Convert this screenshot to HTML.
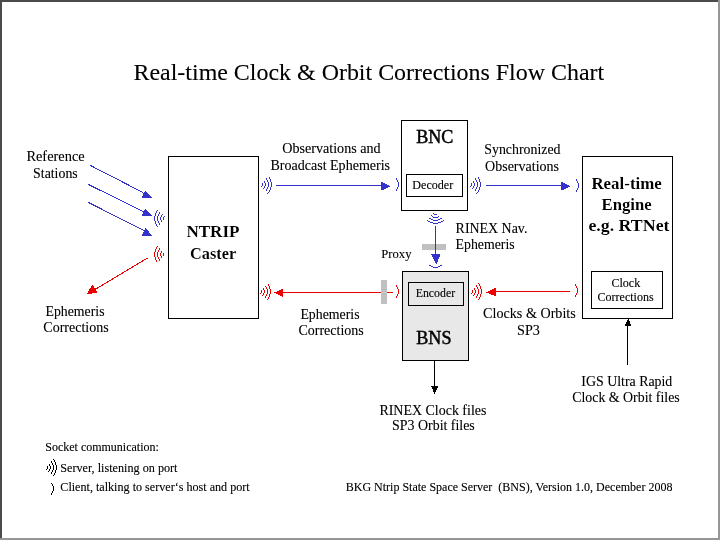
<!DOCTYPE html>
<html><head><meta charset="utf-8"><style>
html,body{margin:0;padding:0;background:#fff;}
svg{display:block;}
line,polygon,rect{shape-rendering:crispEdges;}
text{font-family:"Liberation Serif",serif;fill:#000;white-space:pre;}
</style></head><body>
<svg width="720" height="540" viewBox="0 0 720 540">
<defs><filter id="bl" x="0" y="0" width="720" height="540" filterUnits="userSpaceOnUse"><feComponentTransfer><feFuncA type="gamma" amplitude="1" exponent="1.5" offset="0"/></feComponentTransfer></filter><filter id="bw" x="0" y="0" width="720" height="540" filterUnits="userSpaceOnUse"><feComponentTransfer><feFuncA type="gamma" amplitude="1" exponent="0.8" offset="0"/></feComponentTransfer></filter></defs>
<rect x="0" y="0" width="720" height="540" fill="#fff"/>
<rect x="0" y="0" width="718" height="2" fill="#4b4b4b"/>
<rect x="0" y="0" width="2" height="538" fill="#4b4b4b"/>
<rect x="718" y="0" width="2" height="540" fill="#969696"/>
<rect x="0" y="538" width="720" height="2" fill="#969696"/>
<rect x="168.5" y="156.5" width="90" height="162" fill="none" stroke="#000" stroke-width="1"/>
<rect x="401.5" y="120.5" width="66" height="90" fill="none" stroke="#000" stroke-width="1"/>
<rect x="406.5" y="174.5" width="56" height="22" fill="none" stroke="#000" stroke-width="1"/>
<rect x="402.5" y="271.5" width="66" height="89" fill="#e8e8e8" stroke="#000" stroke-width="1"/>
<rect x="408.5" y="282.5" width="55" height="23" fill="#e8e8e8" stroke="#000" stroke-width="1"/>
<rect x="582.5" y="156.5" width="90" height="162" fill="none" stroke="#000" stroke-width="1"/>
<rect x="591.5" y="271.5" width="71" height="37" fill="none" stroke="#000" stroke-width="1"/>
<rect x="422" y="244" width="24" height="6" fill="#c0c0c0"/>
<line x1="90.5" y1="165.5" x2="143" y2="192.5" stroke="#3333cc" stroke-width="1"/>
<g fill="#3333cc"><rect x="145" y="191" width="1" height="1"/><rect x="144" y="192" width="3" height="1"/><rect x="143" y="193" width="5" height="1"/><rect x="143" y="194" width="6" height="1"/><rect x="143" y="195" width="7" height="1"/><rect x="142" y="196" width="9" height="1"/><rect x="142" y="197" width="10" height="1"/></g>
<line x1="88.5" y1="184.5" x2="143" y2="211.5" stroke="#3333cc" stroke-width="1"/>
<g fill="#3333cc"><rect x="145" y="209" width="1" height="1"/><rect x="144" y="210" width="3" height="1"/><rect x="143" y="211" width="5" height="1"/><rect x="143" y="212" width="6" height="1"/><rect x="143" y="213" width="7" height="1"/><rect x="142" y="214" width="9" height="1"/><rect x="142" y="215" width="10" height="1"/></g>
<line x1="88.5" y1="202.5" x2="144" y2="230.5" stroke="#3333cc" stroke-width="1"/>
<g fill="#3333cc"><rect x="145" y="228" width="1" height="1"/><rect x="145" y="229" width="2" height="1"/><rect x="144" y="230" width="4" height="1"/><rect x="144" y="231" width="5" height="1"/><rect x="143" y="232" width="6" height="1"/><rect x="143" y="233" width="7" height="1"/><rect x="142" y="234" width="9" height="1"/><rect x="142" y="235" width="10" height="1"/></g>
<line x1="148.5" y1="257.5" x2="95" y2="289.5" stroke="#ea0000" stroke-width="1"/>
<g fill="#ea0000"><rect x="92" y="285" width="1" height="1"/><rect x="91" y="286" width="3" height="1"/><rect x="91" y="287" width="3" height="1"/><rect x="90" y="288" width="7" height="1"/><rect x="89" y="289" width="7" height="1"/><rect x="89" y="290" width="7" height="1"/><rect x="88" y="291" width="9" height="1"/><rect x="88" y="292" width="9" height="1"/><rect x="87" y="293" width="5" height="1"/></g>
<rect x="276" y="185" width="106" height="1" fill="#3333cc"/>
<g fill="#3333cc"><rect x="381" y="182" width="2" height="1"/><rect x="381" y="183" width="4" height="1"/><rect x="381" y="184" width="6" height="1"/><rect x="381" y="185" width="8" height="1"/><rect x="381" y="186" width="9" height="1"/><rect x="381" y="187" width="7" height="1"/><rect x="381" y="188" width="5" height="1"/><rect x="381" y="189" width="3" height="1"/></g>
<rect x="486" y="185" width="76" height="1" fill="#3333cc"/>
<g fill="#3333cc"><rect x="561" y="182" width="2" height="1"/><rect x="561" y="183" width="4" height="1"/><rect x="561" y="184" width="6" height="1"/><rect x="561" y="185" width="8" height="1"/><rect x="561" y="186" width="9" height="1"/><rect x="561" y="187" width="7" height="1"/><rect x="561" y="188" width="5" height="1"/><rect x="561" y="189" width="3" height="1"/></g>
<rect x="495" y="291" width="75" height="1" fill="#ea0000"/>
<g fill="#ea0000"><rect x="494" y="288" width="2" height="1"/><rect x="492" y="289" width="4" height="1"/><rect x="490" y="290" width="6" height="1"/><rect x="488" y="291" width="8" height="1"/><rect x="486" y="292" width="10" height="1"/><rect x="489" y="293" width="7" height="1"/><rect x="491" y="294" width="5" height="1"/><rect x="494" y="295" width="2" height="1"/></g>
<rect x="282" y="292" width="111" height="1" fill="#ea0000"/>
<g fill="#ea0000"><rect x="281" y="289" width="2" height="1"/><rect x="279" y="290" width="4" height="1"/><rect x="277" y="291" width="6" height="1"/><rect x="274" y="292" width="9" height="1"/><rect x="276" y="293" width="7" height="1"/><rect x="278" y="294" width="5" height="1"/><rect x="280" y="295" width="3" height="1"/><rect x="282" y="296" width="1" height="1"/></g>
<rect x="435" y="226" width="1" height="29" fill="#3333cc"/>
<g fill="#3333cc"><rect x="431" y="254" width="9" height="1"/><rect x="432" y="255" width="8" height="1"/><rect x="432" y="256" width="8" height="1"/><rect x="433" y="257" width="6" height="1"/><rect x="433" y="258" width="6" height="1"/><rect x="434" y="259" width="4" height="1"/><rect x="434" y="260" width="4" height="1"/><rect x="435" y="261" width="3" height="1"/><rect x="435" y="262" width="2" height="1"/><rect x="436" y="263" width="1" height="1"/></g>
<rect x="434" y="361" width="1" height="26" fill="#000"/>
<g fill="#000"><rect x="431" y="386" width="7" height="1"/><rect x="432" y="387" width="6" height="1"/><rect x="432" y="388" width="5" height="1"/><rect x="433" y="389" width="4" height="1"/><rect x="433" y="390" width="3" height="1"/><rect x="433" y="391" width="3" height="1"/><rect x="434" y="392" width="1" height="1"/><rect x="434" y="393" width="1" height="1"/></g>
<rect x="627" y="325" width="1" height="40" fill="#000"/>
<g fill="#000"><rect x="628" y="319" width="1" height="1"/><rect x="627" y="320" width="2" height="1"/><rect x="627" y="321" width="3" height="1"/><rect x="626" y="322" width="4" height="1"/><rect x="626" y="323" width="4" height="1"/><rect x="625" y="324" width="6" height="1"/><rect x="625" y="325" width="6" height="1"/></g>
<rect x="381" y="280" width="6" height="24" fill="#c0c0c0"/>
<rect x="381" y="292" width="6" height="1" fill="#c4d0d0"/>
<g fill="#3333cc"><rect x="269" y="177" width="1" height="1"/><rect x="266" y="178" width="1" height="1"/><rect x="269" y="178" width="1" height="1"/><rect x="266" y="179" width="1" height="1"/><rect x="270" y="179" width="1" height="1"/><rect x="267" y="180" width="1" height="1"/><rect x="270" y="180" width="1" height="1"/><rect x="264" y="181" width="1" height="1"/><rect x="267" y="181" width="1" height="1"/><rect x="270" y="181" width="1" height="1"/><rect x="264" y="182" width="1" height="1"/><rect x="268" y="182" width="1" height="1"/><rect x="271" y="182" width="1" height="1"/><rect x="262" y="183" width="1" height="1"/><rect x="265" y="183" width="1" height="1"/><rect x="268" y="183" width="1" height="1"/><rect x="271" y="183" width="1" height="1"/><rect x="262" y="184" width="1" height="1"/><rect x="265" y="184" width="1" height="1"/><rect x="268" y="184" width="1" height="1"/><rect x="271" y="184" width="1" height="1"/><rect x="262" y="185" width="1" height="1"/><rect x="265" y="185" width="1" height="1"/><rect x="268" y="185" width="1" height="1"/><rect x="271" y="185" width="1" height="1"/><rect x="261" y="186" width="1" height="1"/><rect x="264" y="186" width="1" height="1"/><rect x="268" y="186" width="1" height="1"/><rect x="271" y="186" width="1" height="1"/><rect x="264" y="187" width="1" height="1"/><rect x="267" y="187" width="1" height="1"/><rect x="270" y="187" width="1" height="1"/><rect x="263" y="188" width="1" height="1"/><rect x="267" y="188" width="1" height="1"/><rect x="270" y="188" width="1" height="1"/><rect x="266" y="189" width="1" height="1"/><rect x="270" y="189" width="1" height="1"/><rect x="266" y="190" width="1" height="1"/><rect x="269" y="190" width="1" height="1"/><rect x="269" y="191" width="1" height="1"/><rect x="268" y="192" width="1" height="1"/><rect x="267" y="193" width="1" height="1"/></g>
<g fill="#ea0000"><rect x="268" y="284" width="1" height="1"/><rect x="268" y="285" width="1" height="1"/><rect x="265" y="286" width="1" height="1"/><rect x="269" y="286" width="1" height="1"/><rect x="266" y="287" width="1" height="1"/><rect x="269" y="287" width="1" height="1"/><rect x="263" y="288" width="1" height="1"/><rect x="266" y="288" width="1" height="1"/><rect x="269" y="288" width="1" height="1"/><rect x="263" y="289" width="1" height="1"/><rect x="267" y="289" width="1" height="1"/><rect x="270" y="289" width="1" height="1"/><rect x="261" y="290" width="1" height="1"/><rect x="264" y="290" width="1" height="1"/><rect x="267" y="290" width="1" height="1"/><rect x="270" y="290" width="1" height="1"/><rect x="261" y="291" width="1" height="1"/><rect x="264" y="291" width="1" height="1"/><rect x="267" y="291" width="1" height="1"/><rect x="270" y="291" width="1" height="1"/><rect x="261" y="292" width="1" height="1"/><rect x="264" y="292" width="1" height="1"/><rect x="267" y="292" width="1" height="1"/><rect x="270" y="292" width="1" height="1"/><rect x="260" y="293" width="1" height="1"/><rect x="263" y="293" width="1" height="1"/><rect x="267" y="293" width="1" height="1"/><rect x="270" y="293" width="1" height="1"/><rect x="263" y="294" width="1" height="1"/><rect x="266" y="294" width="1" height="1"/><rect x="269" y="294" width="1" height="1"/><rect x="262" y="295" width="1" height="1"/><rect x="266" y="295" width="1" height="1"/><rect x="269" y="295" width="1" height="1"/><rect x="265" y="296" width="1" height="1"/><rect x="269" y="296" width="1" height="1"/><rect x="265" y="297" width="1" height="1"/><rect x="268" y="297" width="1" height="1"/><rect x="268" y="298" width="1" height="1"/><rect x="267" y="299" width="1" height="1"/></g>
<g fill="#3333cc"><rect x="478" y="177" width="1" height="1"/><rect x="475" y="178" width="1" height="1"/><rect x="478" y="178" width="1" height="1"/><rect x="475" y="179" width="1" height="1"/><rect x="479" y="179" width="1" height="1"/><rect x="476" y="180" width="1" height="1"/><rect x="479" y="180" width="1" height="1"/><rect x="473" y="181" width="1" height="1"/><rect x="476" y="181" width="1" height="1"/><rect x="479" y="181" width="1" height="1"/><rect x="473" y="182" width="1" height="1"/><rect x="477" y="182" width="1" height="1"/><rect x="480" y="182" width="1" height="1"/><rect x="471" y="183" width="1" height="1"/><rect x="474" y="183" width="1" height="1"/><rect x="477" y="183" width="1" height="1"/><rect x="480" y="183" width="1" height="1"/><rect x="471" y="184" width="1" height="1"/><rect x="474" y="184" width="1" height="1"/><rect x="477" y="184" width="1" height="1"/><rect x="480" y="184" width="1" height="1"/><rect x="471" y="185" width="1" height="1"/><rect x="474" y="185" width="1" height="1"/><rect x="477" y="185" width="1" height="1"/><rect x="480" y="185" width="1" height="1"/><rect x="470" y="186" width="1" height="1"/><rect x="473" y="186" width="1" height="1"/><rect x="477" y="186" width="1" height="1"/><rect x="480" y="186" width="1" height="1"/><rect x="473" y="187" width="1" height="1"/><rect x="476" y="187" width="1" height="1"/><rect x="479" y="187" width="1" height="1"/><rect x="472" y="188" width="1" height="1"/><rect x="476" y="188" width="1" height="1"/><rect x="479" y="188" width="1" height="1"/><rect x="475" y="189" width="1" height="1"/><rect x="479" y="189" width="1" height="1"/><rect x="475" y="190" width="1" height="1"/><rect x="478" y="190" width="1" height="1"/><rect x="478" y="191" width="1" height="1"/><rect x="477" y="192" width="1" height="1"/><rect x="476" y="193" width="1" height="1"/></g>
<g fill="#3333cc"><rect x="157" y="210" width="1" height="1"/><rect x="156" y="211" width="1" height="1"/><rect x="156" y="212" width="1" height="1"/><rect x="159" y="212" width="1" height="1"/><rect x="155" y="213" width="1" height="1"/><rect x="159" y="213" width="1" height="1"/><rect x="155" y="214" width="1" height="1"/><rect x="158" y="214" width="1" height="1"/><rect x="162" y="214" width="1" height="1"/><rect x="155" y="215" width="1" height="1"/><rect x="158" y="215" width="1" height="1"/><rect x="161" y="215" width="1" height="1"/><rect x="154" y="216" width="1" height="1"/><rect x="157" y="216" width="1" height="1"/><rect x="161" y="216" width="1" height="1"/><rect x="164" y="216" width="1" height="1"/><rect x="154" y="217" width="1" height="1"/><rect x="157" y="217" width="1" height="1"/><rect x="160" y="217" width="1" height="1"/><rect x="163" y="217" width="1" height="1"/><rect x="154" y="218" width="1" height="1"/><rect x="157" y="218" width="1" height="1"/><rect x="160" y="218" width="1" height="1"/><rect x="163" y="218" width="1" height="1"/><rect x="154" y="219" width="1" height="1"/><rect x="157" y="219" width="1" height="1"/><rect x="160" y="219" width="1" height="1"/><rect x="163" y="219" width="1" height="1"/><rect x="154" y="220" width="1" height="1"/><rect x="157" y="220" width="1" height="1"/><rect x="161" y="220" width="1" height="1"/><rect x="155" y="221" width="1" height="1"/><rect x="158" y="221" width="1" height="1"/><rect x="161" y="221" width="1" height="1"/><rect x="155" y="222" width="1" height="1"/><rect x="158" y="222" width="1" height="1"/><rect x="155" y="223" width="1" height="1"/><rect x="159" y="223" width="1" height="1"/><rect x="156" y="224" width="1" height="1"/><rect x="159" y="224" width="1" height="1"/><rect x="156" y="225" width="1" height="1"/><rect x="157" y="226" width="1" height="1"/></g>
<g fill="#ea0000"><rect x="157" y="246" width="1" height="1"/><rect x="156" y="247" width="1" height="1"/><rect x="156" y="248" width="1" height="1"/><rect x="159" y="248" width="1" height="1"/><rect x="155" y="249" width="1" height="1"/><rect x="159" y="249" width="1" height="1"/><rect x="155" y="250" width="1" height="1"/><rect x="158" y="250" width="1" height="1"/><rect x="155" y="251" width="1" height="1"/><rect x="158" y="251" width="1" height="1"/><rect x="161" y="251" width="1" height="1"/><rect x="154" y="252" width="1" height="1"/><rect x="157" y="252" width="1" height="1"/><rect x="161" y="252" width="1" height="1"/><rect x="154" y="253" width="1" height="1"/><rect x="157" y="253" width="1" height="1"/><rect x="160" y="253" width="1" height="1"/><rect x="163" y="253" width="1" height="1"/><rect x="154" y="254" width="1" height="1"/><rect x="157" y="254" width="1" height="1"/><rect x="160" y="254" width="1" height="1"/><rect x="163" y="254" width="1" height="1"/><rect x="154" y="255" width="1" height="1"/><rect x="157" y="255" width="1" height="1"/><rect x="160" y="255" width="1" height="1"/><rect x="163" y="255" width="1" height="1"/><rect x="154" y="256" width="1" height="1"/><rect x="157" y="256" width="1" height="1"/><rect x="161" y="256" width="1" height="1"/><rect x="155" y="257" width="1" height="1"/><rect x="158" y="257" width="1" height="1"/><rect x="161" y="257" width="1" height="1"/><rect x="155" y="258" width="1" height="1"/><rect x="158" y="258" width="1" height="1"/><rect x="155" y="259" width="1" height="1"/><rect x="159" y="259" width="1" height="1"/><rect x="156" y="260" width="1" height="1"/><rect x="159" y="260" width="1" height="1"/><rect x="156" y="261" width="1" height="1"/></g>
<g fill="#ea0000"><rect x="478" y="283" width="1" height="1"/><rect x="479" y="284" width="1" height="1"/><rect x="476" y="285" width="1" height="1"/><rect x="479" y="285" width="1" height="1"/><rect x="476" y="286" width="1" height="1"/><rect x="480" y="286" width="1" height="1"/><rect x="477" y="287" width="1" height="1"/><rect x="480" y="287" width="1" height="1"/><rect x="474" y="288" width="1" height="1"/><rect x="477" y="288" width="1" height="1"/><rect x="480" y="288" width="1" height="1"/><rect x="474" y="289" width="1" height="1"/><rect x="478" y="289" width="1" height="1"/><rect x="481" y="289" width="1" height="1"/><rect x="472" y="290" width="1" height="1"/><rect x="475" y="290" width="1" height="1"/><rect x="478" y="290" width="1" height="1"/><rect x="481" y="290" width="1" height="1"/><rect x="472" y="291" width="1" height="1"/><rect x="475" y="291" width="1" height="1"/><rect x="478" y="291" width="1" height="1"/><rect x="481" y="291" width="1" height="1"/><rect x="472" y="292" width="1" height="1"/><rect x="475" y="292" width="1" height="1"/><rect x="478" y="292" width="1" height="1"/><rect x="481" y="292" width="1" height="1"/><rect x="471" y="293" width="1" height="1"/><rect x="474" y="293" width="1" height="1"/><rect x="478" y="293" width="1" height="1"/><rect x="481" y="293" width="1" height="1"/><rect x="474" y="294" width="1" height="1"/><rect x="477" y="294" width="1" height="1"/><rect x="480" y="294" width="1" height="1"/><rect x="473" y="295" width="1" height="1"/><rect x="477" y="295" width="1" height="1"/><rect x="480" y="295" width="1" height="1"/><rect x="476" y="296" width="1" height="1"/><rect x="480" y="296" width="1" height="1"/><rect x="476" y="297" width="1" height="1"/><rect x="479" y="297" width="1" height="1"/><rect x="479" y="298" width="1" height="1"/><rect x="478" y="299" width="1" height="1"/></g>
<g fill="#000"><rect x="53" y="459" width="1" height="1"/><rect x="54" y="460" width="1" height="1"/><rect x="51" y="461" width="1" height="1"/><rect x="54" y="461" width="1" height="1"/><rect x="51" y="462" width="1" height="1"/><rect x="55" y="462" width="1" height="1"/><rect x="52" y="463" width="1" height="1"/><rect x="55" y="463" width="1" height="1"/><rect x="49" y="464" width="1" height="1"/><rect x="52" y="464" width="1" height="1"/><rect x="55" y="464" width="1" height="1"/><rect x="49" y="465" width="1" height="1"/><rect x="53" y="465" width="1" height="1"/><rect x="56" y="465" width="1" height="1"/><rect x="47" y="466" width="1" height="1"/><rect x="50" y="466" width="1" height="1"/><rect x="53" y="466" width="1" height="1"/><rect x="56" y="466" width="1" height="1"/><rect x="47" y="467" width="1" height="1"/><rect x="50" y="467" width="1" height="1"/><rect x="53" y="467" width="1" height="1"/><rect x="56" y="467" width="1" height="1"/><rect x="47" y="468" width="1" height="1"/><rect x="50" y="468" width="1" height="1"/><rect x="53" y="468" width="1" height="1"/><rect x="56" y="468" width="1" height="1"/><rect x="46" y="469" width="1" height="1"/><rect x="49" y="469" width="1" height="1"/><rect x="53" y="469" width="1" height="1"/><rect x="56" y="469" width="1" height="1"/><rect x="49" y="470" width="1" height="1"/><rect x="52" y="470" width="1" height="1"/><rect x="55" y="470" width="1" height="1"/><rect x="48" y="471" width="1" height="1"/><rect x="52" y="471" width="1" height="1"/><rect x="55" y="471" width="1" height="1"/><rect x="51" y="472" width="1" height="1"/><rect x="55" y="472" width="1" height="1"/><rect x="51" y="473" width="1" height="1"/><rect x="54" y="473" width="1" height="1"/><rect x="54" y="474" width="1" height="1"/><rect x="53" y="475" width="1" height="1"/></g>
<g fill="#3333cc"><rect x="433" y="213" width="1" height="1"/><rect x="434" y="214" width="3" height="1"/><rect x="431" y="215" width="1" height="1"/><rect x="432" y="216" width="1" height="1"/><rect x="438" y="216" width="1" height="1"/><rect x="433" y="217" width="5" height="1"/><rect x="429" y="218" width="2" height="1"/><rect x="440" y="218" width="2" height="1"/><rect x="431" y="219" width="2" height="1"/><rect x="438" y="219" width="2" height="1"/><rect x="427" y="220" width="1" height="1"/><rect x="433" y="220" width="5" height="1"/><rect x="443" y="220" width="1" height="1"/><rect x="428" y="221" width="2" height="1"/><rect x="441" y="221" width="2" height="1"/><rect x="430" y="222" width="3" height="1"/><rect x="438" y="222" width="3" height="1"/><rect x="433" y="223" width="5" height="1"/></g>
<g fill="#3333cc"><rect x="396" y="178" width="1" height="1"/><rect x="396" y="179" width="1" height="1"/><rect x="397" y="180" width="1" height="1"/><rect x="397" y="181" width="1" height="1"/><rect x="398" y="182" width="1" height="1"/><rect x="398" y="183" width="1" height="1"/><rect x="398" y="184" width="1" height="1"/><rect x="398" y="185" width="1" height="1"/><rect x="398" y="186" width="1" height="1"/><rect x="397" y="187" width="1" height="1"/><rect x="397" y="188" width="1" height="1"/><rect x="396" y="189" width="1" height="1"/><rect x="396" y="190" width="1" height="1"/></g>
<g fill="#3333cc"><rect x="576" y="179" width="1" height="1"/><rect x="576" y="180" width="1" height="1"/><rect x="577" y="181" width="1" height="1"/><rect x="577" y="182" width="1" height="1"/><rect x="578" y="183" width="1" height="1"/><rect x="578" y="184" width="1" height="1"/><rect x="578" y="185" width="1" height="1"/><rect x="578" y="186" width="1" height="1"/><rect x="578" y="187" width="1" height="1"/><rect x="577" y="188" width="1" height="1"/><rect x="577" y="189" width="1" height="1"/><rect x="576" y="190" width="1" height="1"/><rect x="576" y="191" width="1" height="1"/></g>
<g fill="#ea0000"><rect x="396" y="285" width="1" height="1"/><rect x="396" y="286" width="1" height="1"/><rect x="397" y="287" width="1" height="1"/><rect x="397" y="288" width="1" height="1"/><rect x="398" y="289" width="1" height="1"/><rect x="398" y="290" width="1" height="1"/><rect x="398" y="291" width="1" height="1"/><rect x="398" y="292" width="1" height="1"/><rect x="398" y="293" width="1" height="1"/><rect x="397" y="294" width="1" height="1"/><rect x="397" y="295" width="1" height="1"/><rect x="396" y="296" width="1" height="1"/><rect x="396" y="297" width="1" height="1"/></g>
<g fill="#ea0000"><rect x="575" y="284" width="1" height="1"/><rect x="575" y="285" width="1" height="1"/><rect x="576" y="286" width="1" height="1"/><rect x="576" y="287" width="1" height="1"/><rect x="577" y="288" width="1" height="1"/><rect x="577" y="289" width="1" height="1"/><rect x="577" y="290" width="1" height="1"/><rect x="577" y="291" width="1" height="1"/><rect x="577" y="292" width="1" height="1"/><rect x="576" y="293" width="1" height="1"/><rect x="576" y="294" width="1" height="1"/><rect x="575" y="295" width="1" height="1"/><rect x="575" y="296" width="1" height="1"/></g>
<g fill="#000"><rect x="51" y="483" width="1" height="1"/><rect x="52" y="484" width="1" height="1"/><rect x="52" y="485" width="1" height="1"/><rect x="53" y="486" width="1" height="1"/><rect x="53" y="487" width="1" height="1"/><rect x="53" y="488" width="1" height="1"/><rect x="53" y="489" width="1" height="1"/><rect x="53" y="490" width="1" height="1"/><rect x="52" y="491" width="1" height="1"/><rect x="52" y="492" width="1" height="1"/><rect x="51" y="493" width="1" height="1"/><rect x="51" y="494" width="1" height="1"/></g>
<g fill="#3333cc"><rect x="429" y="265" width="2" height="1"/><rect x="440" y="265" width="2" height="1"/><rect x="431" y="266" width="2" height="1"/><rect x="438" y="266" width="2" height="1"/><rect x="433" y="267" width="5" height="1"/></g>
<g filter="url(#bw)">
<text id="title" x="133.50" y="79.80" font-size="24" font-weight="400" textLength="470.70" lengthAdjust="spacingAndGlyphs">Real-time Clock &amp; Orbit Corrections Flow Chart</text>
<text id="ref1" x="26.40" y="160.90" font-size="14" font-weight="400" textLength="58.30" lengthAdjust="spacingAndGlyphs">Reference</text>
<text id="ref2" x="33.10" y="177.80" font-size="14" font-weight="400" textLength="44.60" lengthAdjust="spacingAndGlyphs">Stations</text>
<text id="eph1" x="45.50" y="315.80" font-size="14" font-weight="400" textLength="59.00" lengthAdjust="spacingAndGlyphs">Ephemeris</text>
<text id="eph2" x="43.30" y="332.20" font-size="14" font-weight="400" textLength="65.40" lengthAdjust="spacingAndGlyphs">Corrections</text>
<text id="ntrip1" filter="url(#bl)" x="186.40" y="236.90" font-size="16.5" font-weight="700" textLength="53.10" lengthAdjust="spacingAndGlyphs">NTRIP</text>
<text id="ntrip2" filter="url(#bl)" x="190.10" y="258.75" font-size="16.5" font-weight="700" textLength="46.00" lengthAdjust="spacingAndGlyphs">Caster</text>
<text id="obs1" x="282.30" y="152.90" font-size="14" font-weight="400" textLength="98.30" lengthAdjust="spacingAndGlyphs">Observations and</text>
<text id="obs2" x="270.40" y="169.80" font-size="14" font-weight="400" textLength="119.70" lengthAdjust="spacingAndGlyphs">Broadcast Ephemeris</text>
<text id="bnc" x="416.30" y="142.70" font-size="18" font-weight="400" stroke="#000" stroke-width="0.35" textLength="37.10" lengthAdjust="spacingAndGlyphs">BNC</text>
<text id="dec" x="412.30" y="188.80" font-size="12" font-weight="400" textLength="40.90" lengthAdjust="spacingAndGlyphs">Decoder</text>
<text id="syn1" x="484.25" y="154.40" font-size="14" font-weight="400" textLength="76.25" lengthAdjust="spacingAndGlyphs">Synchronized</text>
<text id="syn2" x="485.10" y="170.60" font-size="14" font-weight="400" textLength="73.90" lengthAdjust="spacingAndGlyphs">Observations</text>
<text id="rte1" filter="url(#bl)" x="591.40" y="188.90" font-size="16.5" font-weight="700" textLength="70.40" lengthAdjust="spacingAndGlyphs">Real-time</text>
<text id="rte2" filter="url(#bl)" x="601.60" y="210.30" font-size="16.5" font-weight="700" textLength="50.10" lengthAdjust="spacingAndGlyphs">Engine</text>
<text id="rte3" filter="url(#bl)" x="588.40" y="230.90" font-size="16.5" font-weight="700" textLength="81.10" lengthAdjust="spacingAndGlyphs">e.g. RTNet</text>
<text id="clk1" x="611.40" y="286.80" font-size="12" font-weight="400" textLength="28.90" lengthAdjust="spacingAndGlyphs">Clock</text>
<text id="clk2" x="597.50" y="300.70" font-size="12" font-weight="400" textLength="56.20" lengthAdjust="spacingAndGlyphs">Corrections</text>
<text id="nav1" x="455.60" y="233.00" font-size="14" font-weight="400" textLength="71.80" lengthAdjust="spacingAndGlyphs">RINEX Nav.</text>
<text id="nav2" x="455.60" y="249.10" font-size="14" font-weight="400" textLength="59.10" lengthAdjust="spacingAndGlyphs">Ephemeris</text>
<text id="proxy" x="381.30" y="257.90" font-size="12.5" font-weight="400" textLength="30.20" lengthAdjust="spacingAndGlyphs">Proxy</text>
<text id="enc" x="415.70" y="296.90" font-size="12" font-weight="400" textLength="39.50" lengthAdjust="spacingAndGlyphs">Encoder</text>
<text id="bns" x="416.30" y="343.75" font-size="18" font-weight="400" stroke="#000" stroke-width="0.35" textLength="35.20" lengthAdjust="spacingAndGlyphs">BNS</text>
<text id="ec1" x="300.40" y="318.90" font-size="14" font-weight="400" textLength="59.20" lengthAdjust="spacingAndGlyphs">Ephemeris</text>
<text id="ec2" x="298.40" y="335.30" font-size="14" font-weight="400" textLength="65.40" lengthAdjust="spacingAndGlyphs">Corrections</text>
<text id="co1" x="483.10" y="317.70" font-size="14" font-weight="400" textLength="92.70" lengthAdjust="spacingAndGlyphs">Clocks &amp; Orbits</text>
<text id="co2" x="517.10" y="334.80" font-size="14" font-weight="400" textLength="22.80" lengthAdjust="spacingAndGlyphs">SP3</text>
<text id="rcf1" x="379.40" y="414.60" font-size="14" font-weight="400" textLength="107.00" lengthAdjust="spacingAndGlyphs">RINEX Clock files</text>
<text id="rcf2" x="392.10" y="430.30" font-size="14" font-weight="400" textLength="82.70" lengthAdjust="spacingAndGlyphs">SP3 Orbit files</text>
<text id="igs1" x="581.30" y="385.50" font-size="14" font-weight="400" textLength="91.00" lengthAdjust="spacingAndGlyphs">IGS Ultra Rapid</text>
<text id="igs2" x="572.20" y="402.20" font-size="14" font-weight="400" textLength="107.60" lengthAdjust="spacingAndGlyphs">Clock &amp; Orbit files</text>
<text id="sock" x="45.30" y="450.70" font-size="12" font-weight="400" textLength="113.50" lengthAdjust="spacingAndGlyphs">Socket communication:</text>
<text id="srv" x="60.30" y="471.80" font-size="12" font-weight="400" textLength="117.20" lengthAdjust="spacingAndGlyphs">Server, listening on port</text>
<text id="cli" x="60.30" y="490.60" font-size="12" font-weight="400" textLength="189.40" lengthAdjust="spacingAndGlyphs">Client, talking to server&#8216;s host and port</text>
<text id="foot" x="345.75" y="490.70" font-size="12" font-weight="400" textLength="326.65" lengthAdjust="spacingAndGlyphs">BKG Ntrip State Space Server  (BNS), Version 1.0, December 2008</text>
</g>
</svg>
</body></html>
